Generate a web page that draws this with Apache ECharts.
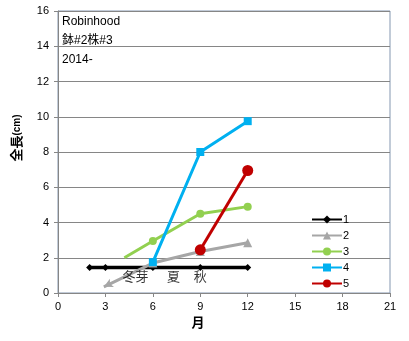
<!DOCTYPE html>
<html>
<head>
<meta charset="utf-8">
<script src="https://cdn.jsdelivr.net/npm/echarts@6/dist/echarts.min.js"></script>
<style>
html,body{margin:0;padding:0;background:#fff;}
#chart{width:409px;height:341px;}
</style>
</head>
<body>
<div id="chart"></div>
<script>
// Growth of each shoot (total length, cm) by month
const seriesNames = ['1', '2', '3', '4', '5'];
const months1 = [2, 3, 6, 9, 12];
const len1 = [1.45, 1.45, 1.45, 1.45, 1.45];
const months2 = [2.9, 6, 9, 12];
const len2 = [0.35, 1.7, 2.35, 2.85];
const months3 = [4.2, 6, 9, 12];
const len3 = [2.0, 2.95, 4.5, 4.9];
const months4 = [6, 9, 12];
const len4 = [1.75, 8.0, 9.75];
const months5 = [9, 12];
const len5 = [2.45, 6.95];
const xTicks = [0, 3, 6, 9, 12, 15, 18, 21];
const notes = ['Robinhood', '鉢#2株#3', '2014-'];
const seasonLabels = [
  { text: '冬芽', month: 4.9 },
  { text: '夏', month: 7.3 },
  { text: '秋', month: 9.0 }
];
const seasonLevel = 0.9;

const colors = ['#000000', '#A6A6A6', '#92D050', '#00B0F0', '#C00000'];
const font = 'Arial, "Noto Sans CJK JP", sans-serif';

function pairs(xs, ys) { return xs.map((x, i) => [x, ys[i]]); }

const chart = echarts.init(document.getElementById('chart'));

const d2 = pairs(months2, len2);
d2[0] = { value: d2[0], symbol: 'arrow', symbolSize: [7, 9], symbolRotate: 116 };
const d3 = pairs(months3, len3);
d3[0] = { value: d3[0], symbol: 'none' };

chart.setOption({
  animation: false,
  color: colors,
  textStyle: { fontFamily: font },
  grid: {
    left: 58, right: 19, top: 11, bottom: 48,
    show: true, borderColor: '#8497B0', borderWidth: 1
  },
  legend: {
    orient: 'vertical',
    left: 306, top: 209,
    itemWidth: 30, itemHeight: 10, itemGap: 5,
    textStyle: { fontSize: 11, color: '#000', padding: [0, 0, 0, -4] },
    data: seriesNames
  },
  xAxis: {
    type: 'value', min: 0, max: 21, interval: 3,
    name: '月', nameLocation: 'middle', nameGap: 24,
    nameTextStyle: { fontSize: 13, fontWeight: 'bold', color: '#000', padding: [0, 52, 0, 0] },
    axisLine: { lineStyle: { color: '#868686' } },
    axisTick: { show: true, length: 4, lineStyle: { color: '#868686' } },
    axisLabel: { fontSize: 11, color: '#000', margin: 8,
      formatter: v => xTicks.includes(v) ? String(v) : '' },
    splitLine: { show: false }
  },
  yAxis: {
    type: 'value', min: 0, max: 16, interval: 2,
    name: '{a|全長}{b|(cm)}', nameLocation: 'middle', nameGap: 34, nameRotate: 90,
    nameTextStyle: {
      rich: {
        a: { fontSize: 13, fontWeight: 'bold', color: '#000', fontFamily: font },
        b: { fontSize: 10, fontWeight: 'bold', color: '#000', fontFamily: font }
      },
      padding: [0, 0, 0, 28]
    },
    axisLine: { show: true, lineStyle: { color: '#868686' } },
    axisTick: { show: true, length: 4, lineStyle: { color: '#868686' } },
    axisLabel: { fontSize: 11, color: '#000', margin: 9 },
    splitLine: { lineStyle: { color: '#868686', width: 1 } }
  },
  series: [
    { name: '1', type: 'line', data: pairs(months1, len1), symbol: 'diamond', symbolSize: 7,
      lineStyle: { width: 3.5 }, itemStyle: { color: colors[0] }, z: 2 },
    { name: '2', type: 'line', data: d2, symbol: 'triangle', symbolSize: 9,
      lineStyle: { width: 3 }, itemStyle: { color: colors[1] }, z: 3 },
    { name: '3', type: 'line', data: d3, symbol: 'circle', symbolSize: 8,
      lineStyle: { width: 3 }, itemStyle: { color: colors[2] }, z: 4 },
    { name: '4', type: 'line', data: pairs(months4, len4), symbol: 'rect', symbolSize: 8,
      lineStyle: { width: 3 }, itemStyle: { color: colors[3] }, z: 5 },
    { name: '5', type: 'line', data: pairs(months5, len5), symbol: 'circle', symbolSize: 11,
      lineStyle: { width: 3 }, itemStyle: { color: colors[4] }, z: 6 },
    {
      name: 'season', type: 'scatter', symbol: 'circle', symbolSize: 1, silent: true,
      itemStyle: { color: 'rgba(0,0,0,0)' },
      data: seasonLabels.map(s => ({ value: [s.month, seasonLevel], name: s.text })),
      label: { show: true, position: 'inside', formatter: p => p.name,
        fontSize: 13, color: '#000', fontFamily: font },
      labelLayout: { hideOverlap: false },
      z: 7
    }
  ],
  graphic: notes.map((t, i) => ({
    type: 'text', left: 62, top: 16 + i * 19,
    style: { text: t, fontSize: 12, fill: '#000', fontFamily: font }
  }))
});
</script>
</body>
</html>
